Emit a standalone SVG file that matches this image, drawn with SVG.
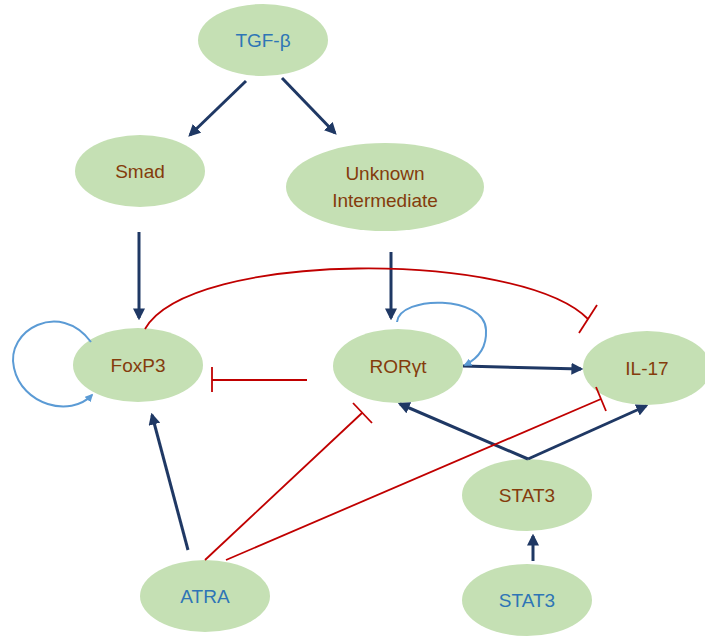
<svg xmlns="http://www.w3.org/2000/svg" width="705" height="637" viewBox="0 0 705 637">
<style>
.n{fill:#C5E0B4}
.t{font-family:"Liberation Sans",Arial,sans-serif;font-size:19px;text-anchor:middle;fill:#843C0C}
.b{fill:#2E75B6}
.a{stroke:#1F3864;stroke-width:3;fill:none;marker-end:url(#ah)}
.r{stroke:#C00000;stroke-width:1.8;fill:none}
.l{stroke:#5B9BD5;stroke-width:2;fill:none;marker-end:url(#lh)}
</style>
<defs>
<marker id="ah" viewBox="0 0 10 10" refX="8" refY="5" markerWidth="4" markerHeight="4" orient="auto" markerUnits="strokeWidth"><path d="M0,0 L10,5 L0,10 z" fill="#1F3864"/></marker>
<marker id="lh" viewBox="0 0 10 10" refX="8" refY="5" markerWidth="4" markerHeight="4" orient="auto" markerUnits="strokeWidth"><path d="M0,0 L10,5 L0,10 z" fill="#5B9BD5"/></marker>
</defs>
<g id="nodes">
<g id="tgfb"><ellipse class="n" cx="263" cy="40" rx="65" ry="36"/><text class="t b" x="263" y="47">TGF-β</text></g>
<g id="smad"><ellipse class="n" cx="140" cy="171" rx="65" ry="36"/><text class="t" x="140" y="178">Smad</text></g>
<g id="unknown"><ellipse class="n" cx="385" cy="187" rx="99" ry="44"/><text class="t" x="385" y="180">Unknown</text><text class="t" x="385" y="207">Intermediate</text></g>
<g id="foxp3"><ellipse class="n" cx="138" cy="365" rx="65" ry="37"/><text class="t" x="138" y="372">FoxP3</text></g>
<g id="rorgt"><ellipse class="n" cx="398" cy="366" rx="65" ry="37"/><text class="t" x="398" y="373">RORγt</text></g>
<g id="il17"><ellipse class="n" cx="647" cy="368" rx="64" ry="37"/><text class="t" x="647" y="375">IL-17</text></g>
<g id="stat3a"><ellipse class="n" cx="527" cy="495" rx="65" ry="36"/><text class="t" x="527" y="502">STAT3</text></g>
<g id="stat3b"><ellipse class="n" cx="527" cy="600" rx="65" ry="36"/><text class="t b" x="527" y="607">STAT3</text></g>
<g id="atra"><ellipse class="n" cx="205" cy="596" rx="65" ry="36"/><text class="t b" x="205" y="603">ATRA</text></g>
</g>
<g id="connectors">
<line class="a" x1="246" y1="81" x2="190" y2="135"/>
<line class="a" x1="282" y1="78" x2="335" y2="133"/>
<line class="a" x1="139" y1="232" x2="139" y2="318"/>
<line class="a" x1="391" y1="252" x2="391" y2="318"/>
<line class="a" x1="463" y1="366" x2="581" y2="369"/>
<line class="a" x1="188" y1="550" x2="152" y2="415"/>
<line class="a" x1="528" y1="459" x2="400" y2="404"/>
<line class="a" x1="528" y1="459" x2="646" y2="406"/>
<line class="a" x1="533" y1="561" x2="533" y2="536"/>
<path class="l" d="M91 342 C60 300 5 330 14 368 C22 405 70 418 92 395"/>
<path class="l" d="M397 322 C400 295 485 295 486 330 C487 350 475 360 465 365"/>
<path class="r" d="M145 329 C190 250 520 250 588 319"/>
<line class="r" x1="597" y1="305" x2="579" y2="333"/>
<line class="r" x1="307" y1="380" x2="212" y2="380"/>
<line class="r" x1="212" y1="367" x2="212" y2="392"/>
<line class="r" x1="205" y1="560" x2="362" y2="413"/>
<line class="r" x1="353" y1="403" x2="372" y2="423"/>
<line class="r" x1="226" y1="560" x2="601" y2="399"/>
<line class="r" x1="596" y1="387" x2="606" y2="411"/>
</g>
</svg>
